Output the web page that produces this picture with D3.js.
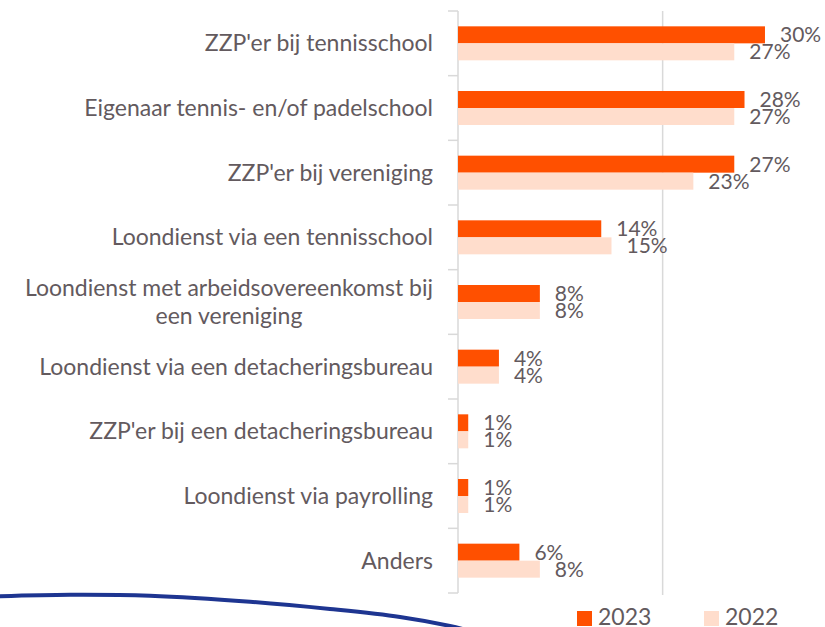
<!DOCTYPE html>
<html>
<head>
<meta charset="utf-8">
<script src="https://cdn.jsdelivr.net/npm/d3@7"></script>
<style>
  html, body { margin: 0; padding: 0; background: #ffffff; }
  svg { display: block; }
  text { font-family: Lato, "Open Sans", sans-serif; fill: #635A5E; }
</style>
</head>
<body>
<svg id="chart" width="825" height="627"></svg>
<script>
// Survey categories (top to bottom)
const categories = [
  "ZZP'er bij tennisschool",
  "Eigenaar tennis- en/of padelschool",
  "ZZP'er bij vereniging",
  "Loondienst via een tennisschool",
  "Loondienst met arbeidsovereenkomst bij een vereniging",
  "Loondienst via een detacheringsbureau",
  "ZZP'er bij een detacheringsbureau",
  "Loondienst via payrolling",
  "Anders"
];
// Share of respondents (%) per year
const values2023 = [30, 28, 27, 14, 8, 4, 1, 1, 6];
const values2022 = [27, 27, 23, 15, 8, 4, 1, 1, 8];
const seriesNames = ["2023", "2022"];
const gridTicks = [20];

const colors = { "2023": "#FF5000", "2022": "#FFDDCC" };
const series = [
  { name: seriesNames[0], values: values2023 },
  { name: seriesNames[1], values: values2022 }
];

const svg = d3.select("#chart");
const labelSize = 23;
const valueSize = 21;
const legendSize = 23;

const x = d3.scaleLinear().domain([0, 40]).range([458, 867.3]);
const y = d3.scaleBand().domain(categories).range([11, 593]).padding(0);
const barH = 17;

// vertical gridline
svg.append("g").selectAll("line").data(gridTicks).join("line")
  .attr("x1", d => x(d)).attr("x2", d => x(d))
  .attr("y1", 11).attr("y2", 595)
  .attr("stroke", "#D9D9D9").attr("stroke-width", 1.5);

// category axis
const yAxis = svg.append("g").attr("transform", `translate(${x(0)},0)`);
yAxis.append("line")
  .attr("x1", 0).attr("x2", 0).attr("y1", 11).attr("y2", 593)
  .attr("stroke", "#D9D9D9").attr("stroke-width", 1.5);
const bounds = categories.map(c => y(c)).concat([y.range()[1]]);
yAxis.selectAll("line.tick").data(bounds).join("line")
  .attr("class", "tick")
  .attr("x1", -10).attr("x2", 0)
  .attr("y1", d => d).attr("y2", d => d)
  .attr("stroke", "#D9D9D9").attr("stroke-width", 1.5);

// bars with value labels
series.forEach((s, si) => {
  const g = svg.append("g");
  g.selectAll("rect").data(s.values).join("rect")
    .attr("x", x(0))
    .attr("y", (d, i) => y(categories[i]) + y.bandwidth() / 2 - barH + si * barH)
    .attr("width", d => x(d) - x(0))
    .attr("height", barH)
    .attr("fill", colors[s.name]);
  g.selectAll("text").data(s.values).join("text")
    .attr("x", d => x(d) + 15)
    .attr("y", (d, i) => y(categories[i]) + y.bandwidth() / 2 - 1 + si * barH)
    .attr("font-size", valueSize)
    .text(d => d + "%");
});

// category labels, wrapped when wider than the label column
const labelRight = 433;
const maxLabelWidth = 428;
const labels = svg.append("g");
categories.forEach(c => {
  const cy = y(c) + y.bandwidth() / 2;
  const t = labels.append("text").attr("font-size", labelSize);
  const words = c.split(" ");
  let lines = [], line = [];
  const probe = labels.append("text").attr("font-size", labelSize);
  words.forEach(w => {
    const test = line.concat([w]).join(" ");
    probe.text(test);
    if (probe.node().getComputedTextLength() > maxLabelWidth && line.length) {
      lines.push(line.join(" "));
      line = [w];
    } else {
      line.push(w);
    }
  });
  lines.push(line.join(" "));
  probe.remove();
  const lh = 27.5;
  if (lines.length === 1) {
    t.attr("x", labelRight).attr("y", cy).attr("dy", "0.35em")
      .attr("text-anchor", "end").text(lines[0]);
  } else {
    // multi-line block: right edge at labelRight, lines centred within it
    const widths = lines.map(l => { t.text(l); return t.node().getComputedTextLength(); });
    const blockW = d3.max(widths);
    const cx = labelRight - blockW / 2;
    t.text(null).attr("text-anchor", "middle");
    lines.forEach((l, i) => {
      t.append("tspan").attr("x", cx)
        .attr("y", cy + (i - (lines.length - 1) / 2) * lh)
        .attr("dy", "0.35em").text(l);
    });
  }
});

// legend
const legend = svg.append("g");
const legendX = [577, 704];
series.forEach((s, i) => {
  legend.append("rect").attr("x", legendX[i]).attr("y", 611)
    .attr("width", 15).attr("height", 15).attr("fill", colors[s.name]);
  legend.append("text").attr("x", legendX[i] + 21).attr("y", 625)
    .attr("font-size", legendSize).text(s.name);
});

// decorative swoosh along the bottom edge
const swoosh = [[-5, 596.3], [70, 594.7], [150, 595.7], [250, 601.7], [330, 609], [400, 617], [450, 626], [470, 631]];
svg.append("path")
  .attr("d", d3.line().curve(d3.curveCatmullRom)(swoosh))
  .attr("fill", "none").attr("stroke", "#1E3591").attr("stroke-width", 4);
</script>
</body>
</html>
